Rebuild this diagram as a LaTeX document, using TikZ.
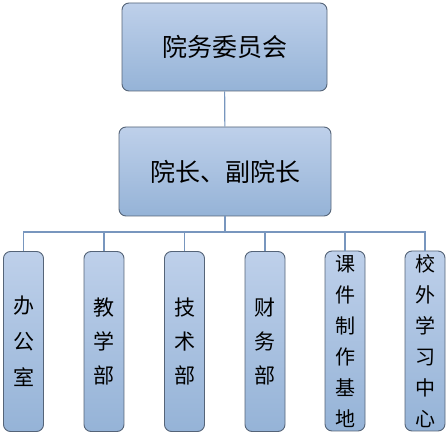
\documentclass[tikz,border=0pt]{standalone}
\usepackage{fontspec}
\newfontfamily\cjk{Noto Sans CJK SC}
\definecolor{boxtop}{RGB}{190,208,234}
\definecolor{boxbot}{RGB}{149,179,215}
\definecolor{boxline}{RGB}{85,100,120}
\definecolor{conn}{RGB}{120,150,190}
\begin{document}
\begin{tikzpicture}[x=1pt,y=-1pt,
  box/.style={draw=boxline, line width=0.9pt, rounded corners=7pt, top color=boxtop, bottom color=boxbot, font=\cjk, text=black, inner sep=0pt},
  big/.style={box, font=\cjk\fontsize{25}{25}\selectfont},
  dept/.style={box, minimum width=40pt, minimum height=180pt, align=center},
  link/.style={draw=conn, line width=1.1pt}]
\useasboundingbox (0,0) rectangle (448,435);
\node[big, minimum width=205pt, minimum height=88pt] (top) at (224.5,47) {院务委员会};
\node[big, minimum width=212pt, minimum height=89pt] (vice) at (225,171.5) {院长、副院长};
\node[dept, font=\cjk\fontsize{21}{36}\selectfont] (d1) at (23.5,341.5) {办\\公\\室};
\node[dept, font=\cjk\fontsize{21}{34}\selectfont] (d2) at (104,341.5) {教\\学\\部};
\node[dept, font=\cjk\fontsize{21}{34}\selectfont] (d3) at (184.5,341.5) {技\\术\\部};
\node[dept, font=\cjk\fontsize{21}{34}\selectfont] (d4) at (265,341.5) {财\\务\\部};
\node[dept, font=\cjk\fontsize{20}{31}\selectfont] (d5) at (345,341) {课\\件\\制\\作\\基\\地};
\node[dept, font=\cjk\fontsize{20}{31}\selectfont] (d6) at (425,341) {校\\外\\学\\习\\中\\心};
\coordinate (bus) at (225,232);
\draw[link] (top) -- (vice);
\draw[link] (vice) -- (bus);
\foreach \d in {d1,d2,d3,d4,d5,d6}{
  \draw[link] (bus) -| (\d.north);
}
\end{tikzpicture}
\end{document}
